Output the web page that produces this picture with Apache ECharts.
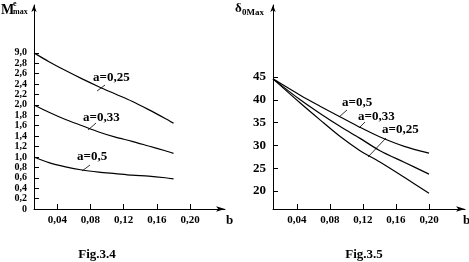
<!DOCTYPE html>
<html><head><meta charset="utf-8">
<script src="https://cdn.jsdelivr.net/npm/echarts@6/dist/echarts.min.js"></script>
<style>html,body{margin:0;padding:0;background:#fff}#c{width:469px;height:262px}</style>
</head><body><div id="c"></div>
<script>
// ---- Fig.3.4 data (M vs b) ----
const leftB   = [0.012, 0.03, 0.05, 0.07, 0.09, 0.11, 0.13, 0.15, 0.17, 0.18];
const mA025   = [3.0, 2.83, 2.66, 2.50, 2.35, 2.21, 2.07, 1.91, 1.74, 1.65];
const mA033   = [2.0, 1.86, 1.72, 1.60, 1.48, 1.38, 1.30, 1.21, 1.12, 1.07];
const mA05    = [1.0, 0.89, 0.81, 0.75, 0.71, 0.68, 0.65, 0.63, 0.60, 0.58];
// ---- Fig.3.5 data (delta vs b) ----
const rightB  = [0.011, 0.044, 0.068, 0.092, 0.116, 0.14, 0.17, 0.20];
const dA05    = [44.6, 41.0, 38.6, 36.3, 34.0, 31.9, 29.8, 28.3];
const dA033   = [44.6, 40.0, 37.0, 34.2, 31.6, 28.9, 26.3, 23.7];
const dA025   = [44.6, 39.3, 35.6, 32.0, 28.9, 26.4, 23.0, 19.5];
// ---- tick labels ----
const xTicks = [0.04, 0.08, 0.12, 0.16, 0.20];
const xTickLabels = ['0,04', '0,08', '0,12', '0,16', '0,20'];
const leftYTicks = [0, 0.2, 0.4, 0.6, 0.8, 1.0, 1.2, 1.4, 1.6, 1.8, 2.0, 2.2, 2.4, 2.6, 2.8, 3.0];
const leftYLabels = ['0', '0,2', '0,4', '0,6', '0,8', '1,0', '1,2', '1,4', '1,6', '1,8', '2,0', '2,2', '2,4', '2,6', '2,8', '9,0'];
const rightYTicks = [20, 25, 30, 35, 40, 45];
const rightYLabels = ['20', '25', '30', '35', '40', '45'];

const FONT = '"Liberation Serif", "DejaVu Serif", serif';
function lookup(ticks, labels) {
  return function (v) {
    for (let i = 0; i < ticks.length; i++) if (Math.abs(ticks[i] - v) < 1e-6) return labels[i];
    return '';
  };
}
function zip(xs, ys) { return xs.map((x, i) => [x, ys[i]]); }
function axisBase(extra) {
  return Object.assign({
    type: 'value',
    splitLine: { show: false },
    axisLine: { show: true, onZero: false, lineStyle: { color: '#000', width: 1 } },
    axisTick: { show: true, inside: true, length: 5, lineStyle: { color: '#000', width: 1 } },
    axisLabel: { color: '#000', fontFamily: FONT, fontWeight: 'bold', fontSize: 11,
      hideOverlap: false, showMinLabel: true, showMaxLabel: true }
  }, extra);
}
function xAx(grid, min, max) {
  const a = axisBase({ gridIndex: grid, min: min, max: max });
  a.axisLine.symbol = ['none', 'arrow'];
  a.axisLine.symbolSize = [4, 9];
  a.axisTick.customValues = xTicks;
  a.axisLabel.customValues = xTicks;
  a.axisLabel.formatter = lookup(xTicks, xTickLabels);
  a.axisLabel.margin = 6;
  a.axisLabel.fontSize = 11;
  return a;
}
function yAx(grid, min, max, ticks, labels, size, lh) {
  const a = axisBase({ gridIndex: grid, min: min, max: max });
  a.axisLine.symbol = ['none', 'arrow'];
  a.axisLine.symbolSize = [4, 7];
  a.axisTick.customValues = ticks;
  a.axisLabel.customValues = ticks;
  a.axisLabel.formatter = lookup(ticks, labels);
  a.axisLabel.margin = 7;
  a.axisLabel.fontSize = size;
  a.axisLabel.lineHeight = lh;
  return a;
}
function line(data, xi, yi) {
  return { type: 'line', data: data, xAxisIndex: xi, yAxisIndex: yi, showSymbol: false, smooth: 0.3,
    lineStyle: { color: '#000', width: 1.2 }, silent: true, animation: false };
}
function txt(x, y, s, size, align) {
  return { type: 'text', x: x, y: y,
    style: { text: s, fill: '#000', font: 'bold ' + size + 'px ' + FONT, align: align || 'left',
      verticalAlign: align ? 'middle' : 'top' } };
}
function seg(x1, y1, x2, y2) {
  return { type: 'line', shape: { x1: x1, y1: y1, x2: x2, y2: y2 }, style: { stroke: '#000', lineWidth: 0.8 } };
}

const chart = echarts.init(document.getElementById('c'), null, { renderer: 'canvas' });
chart.setOption({
  animation: false,
  backgroundColor: '#fff',
  grid: [
    { left: 34, right: 244, top: 5, bottom: 53 },
    { left: 273, right: 4, top: 5, bottom: 53 }
  ],
  xAxis: [xAx(0, 0.012, 0.242), xAx(1, 0.011, 0.2436)],
  yAxis: [
    yAx(0, 0, 3.92, leftYTicks, leftYLabels, 10, 10),
    yAx(1, 16.05, 60.8, rightYTicks, rightYLabels, 13, 14)
  ],
  series: [
    line(zip(leftB, mA025), 0, 0),
    line(zip(leftB, mA033), 0, 0),
    line(zip(leftB, mA05), 0, 0),
    line(zip(rightB, dA05), 1, 1),
    line(zip(rightB, dA033), 1, 1),
    line(zip(rightB, dA025), 1, 1)
  ],
  graphic: [
    // left axis title
    txt(1, 3, 'M', 14),
    txt(13, 0, 'e', 8),
    txt(13, 8, 'max', 8),
    // right axis title
    txt(235, 2, 'δ', 13),
    txt(242, 8, '0Max', 9),
    // axis names
    txt(226, 214, 'b', 13),
    txt(463, 214, 'b', 13),
    // captions
    txt(97, 255, 'Fig.3.4', 13, 'center'),
    txt(364, 255, 'Fig.3.5', 13, 'center'),
    // left annotations
    txt(93, 71, 'a=0,25', 13), seg(97, 91, 105, 85),
    txt(83, 111, 'a=0,33', 13), seg(88, 130, 96, 123),
    txt(77, 150, 'a=0,5', 13), seg(82, 171, 90, 165),
    // right annotations
    txt(342, 96, 'a=0,5', 13), seg(339, 117, 347, 110),
    txt(358, 110, 'a=0,33', 13), seg(359, 128, 365, 122),
    txt(382, 123, 'a=0,25', 13), seg(368, 157, 386, 138)
  ]
});
</script></body></html>
